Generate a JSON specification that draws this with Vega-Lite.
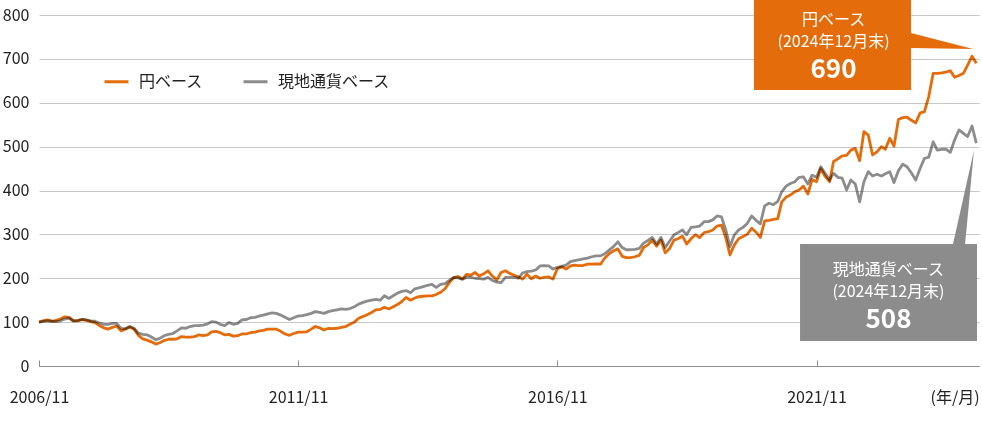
{
  "$schema": "https://vega.github.io/schema/vega-lite/v6.json",
  "width": 940,
  "height": 351,
  "autosize": {"type": "none"},
  "padding": {"left": 39, "top": 15, "right": 3, "bottom": 58},
  "background": "white",
  "config": {
    "view": {"stroke": null},
    "font": "Noto Sans CJK JP",
    "axis": {"labelFont": "Noto Sans CJK JP", "labelFontSize": 16, "labelColor": "#222222"},
    "legend": {"labelFont": "Noto Sans CJK JP", "labelFontSize": 16, "labelColor": "#222222"}
  },
  "datasets": {
    "s": [
      {"d":"2006-11","yen":100,"local":100},{"d":"2006-12","yen":103,"local":102},
      {"d":"2007-01","yen":105,"local":103},{"d":"2007-02","yen":102,"local":102},{"d":"2007-03","yen":104,"local":101},{"d":"2007-04","yen":107,"local":103},{"d":"2007-05","yen":112,"local":107},{"d":"2007-06","yen":111,"local":109},{"d":"2007-07","yen":103,"local":103},{"d":"2007-08","yen":103,"local":104},{"d":"2007-09","yen":106,"local":106},{"d":"2007-10","yen":104,"local":105},{"d":"2007-11","yen":101,"local":103},{"d":"2007-12","yen":99,"local":102},
      {"d":"2008-01","yen":92,"local":98},{"d":"2008-02","yen":87,"local":95},{"d":"2008-03","yen":84,"local":95},{"d":"2008-04","yen":88,"local":97},{"d":"2008-05","yen":91,"local":97},{"d":"2008-06","yen":80,"local":86},{"d":"2008-07","yen":84,"local":85},{"d":"2008-08","yen":89,"local":90},{"d":"2008-09","yen":84,"local":86},{"d":"2008-10","yen":70,"local":75},{"d":"2008-11","yen":62,"local":72},{"d":"2008-12","yen":59,"local":71},
      {"d":"2009-01","yen":55,"local":66},{"d":"2009-02","yen":50,"local":60},{"d":"2009-03","yen":53,"local":63},{"d":"2009-04","yen":58,"local":69},{"d":"2009-05","yen":61,"local":72},{"d":"2009-06","yen":61,"local":74},{"d":"2009-07","yen":62,"local":80},{"d":"2009-08","yen":67,"local":87},{"d":"2009-09","yen":66,"local":86},{"d":"2009-10","yen":66,"local":90},{"d":"2009-11","yen":67,"local":92},{"d":"2009-12","yen":71,"local":92},
      {"d":"2010-01","yen":69,"local":93},{"d":"2010-02","yen":71,"local":96},{"d":"2010-03","yen":78,"local":101},{"d":"2010-04","yen":79,"local":100},{"d":"2010-05","yen":76,"local":95},{"d":"2010-06","yen":71,"local":92},{"d":"2010-07","yen":72,"local":99},{"d":"2010-08","yen":68,"local":95},{"d":"2010-09","yen":69,"local":97},{"d":"2010-10","yen":73,"local":105},{"d":"2010-11","yen":73,"local":106},{"d":"2010-12","yen":76,"local":110},
      {"d":"2011-01","yen":77,"local":111},{"d":"2011-02","yen":80,"local":114},{"d":"2011-03","yen":81,"local":116},{"d":"2011-04","yen":84,"local":119},{"d":"2011-05","yen":84,"local":121},{"d":"2011-06","yen":84,"local":120},{"d":"2011-07","yen":79,"local":116},{"d":"2011-08","yen":73,"local":111},{"d":"2011-09","yen":70,"local":106},{"d":"2011-10","yen":74,"local":110},{"d":"2011-11","yen":77,"local":114},{"d":"2011-12","yen":77,"local":115},
      {"d":"2012-01","yen":78,"local":117},{"d":"2012-02","yen":84,"local":120},{"d":"2012-03","yen":90,"local":124},{"d":"2012-04","yen":87,"local":122},{"d":"2012-05","yen":82,"local":120},{"d":"2012-06","yen":86,"local":124},{"d":"2012-07","yen":85,"local":126},{"d":"2012-08","yen":86,"local":128},{"d":"2012-09","yen":88,"local":130},{"d":"2012-10","yen":90,"local":129},{"d":"2012-11","yen":95,"local":131},{"d":"2012-12","yen":100,"local":135},
      {"d":"2013-01","yen":109,"local":141},{"d":"2013-02","yen":113,"local":145},{"d":"2013-03","yen":117,"local":148},{"d":"2013-04","yen":122,"local":150},{"d":"2013-05","yen":128,"local":152},{"d":"2013-06","yen":129,"local":150},{"d":"2013-07","yen":134,"local":160},{"d":"2013-08","yen":130,"local":154},{"d":"2013-09","yen":135,"local":160},{"d":"2013-10","yen":140,"local":166},{"d":"2013-11","yen":147,"local":170},{"d":"2013-12","yen":156,"local":172},
      {"d":"2014-01","yen":150,"local":167},{"d":"2014-02","yen":155,"local":176},{"d":"2014-03","yen":158,"local":178},{"d":"2014-04","yen":159,"local":181},{"d":"2014-05","yen":160,"local":184},{"d":"2014-06","yen":160,"local":186},{"d":"2014-07","yen":163,"local":179},{"d":"2014-08","yen":168,"local":186},{"d":"2014-09","yen":176,"local":188},{"d":"2014-10","yen":190,"local":195},{"d":"2014-11","yen":201,"local":202},{"d":"2014-12","yen":204,"local":201},
      {"d":"2015-01","yen":198,"local":198},{"d":"2015-02","yen":209,"local":202},{"d":"2015-03","yen":207,"local":202},{"d":"2015-04","yen":213,"local":200},{"d":"2015-05","yen":205,"local":199},{"d":"2015-06","yen":210,"local":198},{"d":"2015-07","yen":217,"local":202},{"d":"2015-08","yen":205,"local":195},{"d":"2015-09","yen":196,"local":191},{"d":"2015-10","yen":213,"local":190},{"d":"2015-11","yen":217,"local":202},{"d":"2015-12","yen":211,"local":202},
      {"d":"2016-01","yen":207,"local":202},{"d":"2016-02","yen":203,"local":200},{"d":"2016-03","yen":198,"local":212},{"d":"2016-04","yen":209,"local":215},{"d":"2016-05","yen":199,"local":216},{"d":"2016-06","yen":205,"local":219},{"d":"2016-07","yen":200,"local":228},{"d":"2016-08","yen":202,"local":229},{"d":"2016-09","yen":203,"local":228},{"d":"2016-10","yen":198,"local":221},{"d":"2016-11","yen":222,"local":225},{"d":"2016-12","yen":226,"local":227},
      {"d":"2017-01","yen":221,"local":230},{"d":"2017-02","yen":228,"local":238},{"d":"2017-03","yen":230,"local":240},{"d":"2017-04","yen":229,"local":242},{"d":"2017-05","yen":229,"local":244},{"d":"2017-06","yen":232,"local":246},{"d":"2017-07","yen":232,"local":249},{"d":"2017-08","yen":233,"local":251},{"d":"2017-09","yen":232,"local":251},{"d":"2017-10","yen":246,"local":256},{"d":"2017-11","yen":256,"local":264},{"d":"2017-12","yen":262,"local":272},
      {"d":"2018-01","yen":267,"local":283},{"d":"2018-02","yen":250,"local":270},{"d":"2018-03","yen":247,"local":265},{"d":"2018-04","yen":247,"local":265},{"d":"2018-05","yen":249,"local":266},{"d":"2018-06","yen":252,"local":268},{"d":"2018-07","yen":270,"local":280},{"d":"2018-08","yen":276,"local":286},{"d":"2018-09","yen":287,"local":293},{"d":"2018-10","yen":273,"local":278},{"d":"2018-11","yen":287,"local":293},{"d":"2018-12","yen":258,"local":270},
      {"d":"2019-01","yen":268,"local":285},{"d":"2019-02","yen":287,"local":299},{"d":"2019-03","yen":290,"local":304},{"d":"2019-04","yen":296,"local":310},{"d":"2019-05","yen":278,"local":299},{"d":"2019-06","yen":290,"local":316},{"d":"2019-07","yen":299,"local":317},{"d":"2019-08","yen":293,"local":319},{"d":"2019-09","yen":304,"local":329},{"d":"2019-10","yen":306,"local":329},{"d":"2019-11","yen":310,"local":333},{"d":"2019-12","yen":319,"local":342},
      {"d":"2020-01","yen":321,"local":340},{"d":"2020-02","yen":292,"local":310},{"d":"2020-03","yen":253,"local":272},{"d":"2020-04","yen":276,"local":299},{"d":"2020-05","yen":290,"local":310},{"d":"2020-06","yen":295,"local":316},{"d":"2020-07","yen":300,"local":325},{"d":"2020-08","yen":314,"local":342},{"d":"2020-09","yen":305,"local":332},{"d":"2020-10","yen":293,"local":324},{"d":"2020-11","yen":331,"local":365},{"d":"2020-12","yen":332,"local":371},
      {"d":"2021-01","yen":334,"local":368},{"d":"2021-02","yen":336,"local":375},{"d":"2021-03","yen":374,"local":397},{"d":"2021-04","yen":385,"local":410},{"d":"2021-05","yen":390,"local":416},{"d":"2021-06","yen":397,"local":420},{"d":"2021-07","yen":401,"local":430},{"d":"2021-08","yen":410,"local":431},{"d":"2021-09","yen":392,"local":415},{"d":"2021-10","yen":425,"local":435},{"d":"2021-11","yen":420,"local":430},{"d":"2021-12","yen":450,"local":454},
      {"d":"2022-01","yen":432,"local":439},{"d":"2022-02","yen":420,"local":424},{"d":"2022-03","yen":466,"local":439},{"d":"2022-04","yen":472,"local":430},{"d":"2022-05","yen":479,"local":428},{"d":"2022-06","yen":480,"local":401},{"d":"2022-07","yen":492,"local":424},{"d":"2022-08","yen":496,"local":415},{"d":"2022-09","yen":468,"local":374},{"d":"2022-10","yen":534,"local":420},{"d":"2022-11","yen":526,"local":443},{"d":"2022-12","yen":481,"local":433},
      {"d":"2023-01","yen":488,"local":437},{"d":"2023-02","yen":500,"local":433},{"d":"2023-03","yen":494,"local":438},{"d":"2023-04","yen":519,"local":443},{"d":"2023-05","yen":501,"local":418},{"d":"2023-06","yen":562,"local":445},{"d":"2023-07","yen":566,"local":460},{"d":"2023-08","yen":567,"local":454},{"d":"2023-09","yen":560,"local":440},{"d":"2023-10","yen":554,"local":424},{"d":"2023-11","yen":577,"local":450},{"d":"2023-12","yen":579,"local":473},
      {"d":"2024-01","yen":614,"local":476},{"d":"2024-02","yen":667,"local":511},{"d":"2024-03","yen":667,"local":492},{"d":"2024-04","yen":668,"local":494},{"d":"2024-05","yen":670,"local":494},{"d":"2024-06","yen":673,"local":487},{"d":"2024-07","yen":658,"local":515},{"d":"2024-08","yen":662,"local":538},{"d":"2024-09","yen":667,"local":530},{"d":"2024-10","yen":686,"local":523},{"d":"2024-11","yen":706,"local":547},{"d":"2024-12","yen":690,"local":508}
    ]
  },
  "layer": [
    {
      "data": {"name": "s"},
      "transform": [{"fold": ["yen", "local"], "as": ["series", "value"]}],
      "mark": {"type": "line", "strokeWidth": 2.8, "blend": "multiply", "strokeJoin": "round"},
      "encoding": {
        "x": {
          "field": "d", "type": "temporal",
          "scale": {"type": "utc", "nice": false, "domain": [{"year": 2006, "month": 11, "date": 1, "utc": true}, {"year": 2024, "month": 12, "date": 20, "utc": true}]},
          "axis": {
            "title": null, "grid": false, "format": "%Y/%m",
            "values": [{"year": 2006, "month": 11, "date": 1, "utc": true}, {"year": 2011, "month": 11, "date": 1, "utc": true}, {"year": 2016, "month": 11, "date": 1, "utc": true}, {"year": 2021, "month": 11, "date": 1, "utc": true}],
            "domainColor": "#8c8c8c", "domainWidth": 1, "tickColor": "#8c8c8c", "tickSize": -6, "labelPadding": 29, "labelFlush": false
          }
        },
        "y": {
          "field": "value", "type": "quantitative",
          "scale": {"domain": [0, 800], "nice": false},
          "axis": {"title": null, "values": [0, 100, 200, 300, 400, 500, 600, 700, 800], "grid": true, "gridColor": "#c8c8c8", "gridWidth": 1, "domain": false, "ticks": false, "labelPadding": 10}
        },
        "color": {
          "field": "series", "type": "nominal",
          "scale": {"domain": ["yen", "local"], "range": ["#E46C0A", "#8C8C8C"]},
          "legend": {
            "title": null, "orient": "none", "legendX": 64, "legendY": 53, "direction": "horizontal",
            "labelExpr": "datum.value == 'yen' ? '円ベース' : '現地通貨ベース'",
            "symbolType": "stroke", "symbolSize": 576, "symbolStrokeWidth": 3, "columnPadding": 33, "labelOffset": 9
          }
        }
      }
    },
    {
      "data": {"values": [{"x1": "2020-08-17", "x2": "2023-08-29", "y1": 834, "y2": 629}]},
      "mark": {"type": "rect", "color": "#E46C0A"},
      "encoding": {
        "x": {"field": "x1", "type": "temporal", "scale": {"type": "utc", "nice": false, "domain": [{"year": 2006, "month": 11, "date": 1, "utc": true}, {"year": 2024, "month": 12, "date": 20, "utc": true}]}},
        "x2": {"field": "x2"},
        "y": {"field": "y1", "type": "quantitative", "scale": {"domain": [0, 800], "nice": false}},
        "y2": {"field": "y2"}
      }
    },
    {
      "data": {"values": [{"d": "2023-08-29", "t": 759, "b": 724.8}, {"d": "2024-11-08", "t": 722.5, "b": 722.5}]},
      "mark": {"type": "area", "color": "#E46C0A"},
      "encoding": {
        "x": {"field": "d", "type": "temporal", "scale": {"type": "utc", "nice": false, "domain": [{"year": 2006, "month": 11, "date": 1, "utc": true}, {"year": 2024, "month": 12, "date": 20, "utc": true}]}},
        "y": {"field": "t", "type": "quantitative", "scale": {"domain": [0, 800], "nice": false}},
        "y2": {"field": "b"}
      }
    },
    {
      "data": {"values": [{"x1": "2021-07-08", "x2": "2024-12-06", "y1": 278.1, "y2": 57}]},
      "mark": {"type": "rect", "color": "#8C8C8C"},
      "encoding": {
        "x": {"field": "x1", "type": "temporal", "scale": {"type": "utc", "nice": false, "domain": [{"year": 2006, "month": 11, "date": 1, "utc": true}, {"year": 2024, "month": 12, "date": 20, "utc": true}]}},
        "x2": {"field": "x2"},
        "y": {"field": "y1", "type": "quantitative", "scale": {"domain": [0, 800], "nice": false}},
        "y2": {"field": "y2"}
      }
    },
    {
      "data": {"values": [{"v": 278.1, "xa": "2024-06-20", "xb": "2024-09-13"}, {"v": 492.3, "xa": "2024-11-15", "xb": "2024-11-15"}]},
      "mark": {"type": "area", "color": "#8C8C8C", "orient": "horizontal"},
      "encoding": {
        "y": {"field": "v", "type": "quantitative", "scale": {"domain": [0, 800], "nice": false}},
        "x": {"field": "xa", "type": "temporal", "scale": {"type": "utc", "nice": false, "domain": [{"year": 2006, "month": 11, "date": 1, "utc": true}, {"year": 2024, "month": 12, "date": 20, "utc": true}]}},
        "x2": {"field": "xb"}
      }
    },
    {
      "data": {"values": [
        {"d": "2022-03-01", "v": 777.2, "t": "円ベース"},
        {"d": "2022-03-01", "v": 727.1, "t": "(2024年12月末)"},
        {"d": "2023-03-23", "v": 207.4, "t": "現地通貨ベース"},
        {"d": "2023-03-23", "v": 157.3, "t": "(2024年12月末)"}
      ]},
      "mark": {"type": "text", "color": "white", "fontSize": 16, "align": "center", "baseline": "alphabetic", "font": "Noto Sans CJK JP"},
      "encoding": {
        "x": {"field": "d", "type": "temporal", "scale": {"type": "utc", "nice": false, "domain": [{"year": 2006, "month": 11, "date": 1, "utc": true}, {"year": 2024, "month": 12, "date": 20, "utc": true}]}},
        "y": {"field": "v", "type": "quantitative", "scale": {"domain": [0, 800], "nice": false}},
        "text": {"field": "t"}
      }
    },
    {
      "data": {"values": [
        {"d": "2022-03-01", "v": 655.3, "t": "690"},
        {"d": "2023-03-23", "v": 85.5, "t": "508"}
      ]},
      "mark": {"type": "text", "color": "white", "fontSize": 26, "fontWeight": "bold", "align": "center", "baseline": "alphabetic", "font": "Noto Sans CJK JP"},
      "encoding": {
        "x": {"field": "d", "type": "temporal", "scale": {"type": "utc", "nice": false, "domain": [{"year": 2006, "month": 11, "date": 1, "utc": true}, {"year": 2024, "month": 12, "date": 20, "utc": true}]}},
        "y": {"field": "v", "type": "quantitative", "scale": {"domain": [0, 800], "nice": false}},
        "text": {"field": "t"}
      }
    },
    {
      "data": {"values": [{"d": "2024-07-04", "v": -73, "t": "(年/月)"}]},
      "mark": {"type": "text", "color": "#222222", "fontSize": 16, "align": "center", "baseline": "middle", "font": "Noto Sans CJK JP"},
      "encoding": {
        "x": {"field": "d", "type": "temporal", "scale": {"type": "utc", "nice": false, "domain": [{"year": 2006, "month": 11, "date": 1, "utc": true}, {"year": 2024, "month": 12, "date": 20, "utc": true}]}},
        "y": {"field": "v", "type": "quantitative", "scale": {"domain": [0, 800], "nice": false}},
        "text": {"field": "t"}
      }
    }
  ]
}
